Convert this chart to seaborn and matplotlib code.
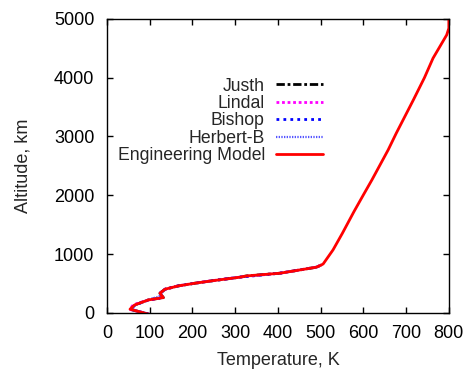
import matplotlib
matplotlib.use("Agg")
import matplotlib.pyplot as plt
import seaborn as sns
import pandas as pd

# Engineering model profile (temperature K vs altitude km)
eng_alt = [-50, 63, 136, 221, 260, 335, 403, 459, 505, 549, 607, 629, 675, 777, 816, 833,
           1071, 1355, 1722, 2006, 2261, 2771, 3055, 3621, 4000, 4330, 4726, 4840, 5000]
eng_T = [112, 54, 65, 97, 132, 124, 136, 167, 206, 249, 311, 327, 405, 490, 502, 506,
         529, 551, 578, 600, 620, 658, 677, 717, 743, 763, 795, 800, 800]

justh_alt = [-50, 63, 136, 221, 260, 335, 403, 459, 505, 549, 607, 629, 675, 777, 816]
justh_T = [112, 54, 65, 97, 132, 124, 136, 167, 206, 249, 311, 327, 405, 490, 502]

lindal_alt = [-40, 60, 140, 215, 258, 330, 400, 460, 505, 550, 610, 675, 777, 816]
lindal_T = [110, 53, 62, 95, 130, 123, 135, 166, 205, 248, 312, 404, 489, 502]

bishop_alt = [-45, 62, 135, 225, 262, 338, 405, 460, 506, 550, 608, 676, 778, 816]
bishop_T = [111, 55, 66, 99, 131, 125, 137, 167, 207, 250, 311, 405, 490, 502]

herbert_alt = [-45, 65, 140, 232, 270, 300, 340, 405, 460, 506, 550, 610, 676, 778, 816]
herbert_T = [112, 56, 68, 100, 118, 126, 128, 137, 168, 207, 249, 312, 405, 490, 502]

series = [
    ("Justh", justh_T, justh_alt, dict(color="black", lw=2.0, dashes=(3, 1, 1, 1))),
    ("Lindal", lindal_T, lindal_alt, dict(color="#ff00ff", lw=2.0, dashes=(1, 1))),
    ("Bishop", bishop_T, bishop_alt, dict(color="#0000ff", lw=2.0, dashes=(1, 1.5))),
    ("Herbert-B", herbert_T, herbert_alt, dict(color="#5555ff", lw=1.6, dashes=(0.6, 0.6))),
    ("Engineering Model", eng_T, eng_alt, dict(color="#ff0000", lw=2.0, dashes=None)),
]

sns.set_style("ticks")
plt.rcParams["font.family"] = ["Liberation Sans", "DejaVu Sans"]
plt.rcParams["font.size"] = 13

fig = plt.figure(figsize=(4.69, 3.69), dpi=100)
ax = fig.add_axes([0.228, 0.152, 0.729, 0.797])

for name, T, alt, st in series:
    df = pd.DataFrame({"T": T, "alt": alt})
    sns.lineplot(data=df, x="T", y="alt", sort=False, estimator=None,
                 ax=ax, label=name, color=st["color"], linewidth=st["lw"])
    l = ax.get_lines()[-1]
    if st["dashes"] is not None:
        l.set_dashes(st["dashes"])

ax.set_xlim(0, 800)
ax.set_ylim(0, 5000)
ax.set_xticks(range(0, 801, 100))
ax.set_yticks(range(0, 5001, 1000))
ax.tick_params(direction="in", top=True, right=True, length=4, width=1,
               labelsize=13, color="black", labelcolor="black")
ax.tick_params(axis="y", pad=9)
ax.tick_params(axis="x", pad=9)
for s in ax.spines.values():
    s.set_visible(True)
    s.set_color("black")
    s.set_linewidth(1)
ax.set_xlabel("Temperature, K", fontsize=13, labelpad=7)
ax.set_ylabel("Altitude, km", fontsize=13, labelpad=16)

leg = ax.legend(loc="upper right", bbox_to_anchor=(0.632, 0.80), frameon=False,
                markerfirst=False, handlelength=2.65, handletextpad=0.65,
                labelspacing=0.02, fontsize=12.7, borderaxespad=0, borderpad=0)

fig.savefig("out.png", dpi=100)
